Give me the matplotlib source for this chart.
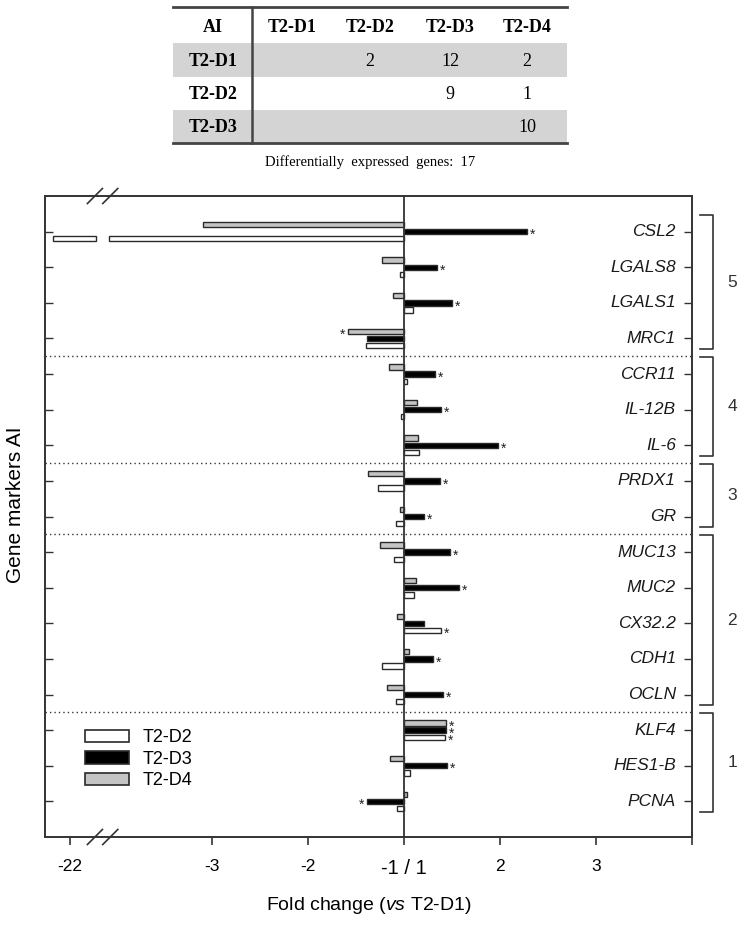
import numpy as np
import matplotlib
matplotlib.use("Agg")
import matplotlib.pyplot as plt
import matplotlib.transforms as mtransforms
from matplotlib.patches import Patch, Rectangle

plt.rcParams['font.family'] = ['Liberation Sans', 'DejaVu Sans']
plt.rcParams['mathtext.fontset'] = 'custom'
plt.rcParams['mathtext.rm'] = 'Liberation Sans'
plt.rcParams['mathtext.it'] = 'Liberation Sans:italic'

# ---- data ----
genes = ['CSL2', 'LGALS8', 'LGALS1', 'MRC1', 'CCR11', 'IL-12B', 'IL-6',
         'PRDX1', 'GR', 'MUC13', 'MUC2', 'CX32.2', 'CDH1', 'OCLN',
         'KLF4', 'HES1-B', 'PCNA']
groups = [5, 5, 5, 5, 4, 4, 4, 3, 3, 2, 2, 2, 2, 2, 1, 1, 1]

fc_d2 = [-23.0, -1.04, 1.09, -1.40, 1.03, -1.03, 1.16, -1.27, -1.08,
         -1.10, 1.10, 1.39, -1.23, -1.08, 1.43, 1.06, -1.07]
fc_d3 = [2.28, 1.34, 1.50, -1.39, 1.32, 1.39, 1.98, 1.38, 1.21,
         1.48, 1.57, 1.21, 1.30, 1.41, 1.44, 1.45, -1.39]
fc_d4 = [-3.09, -1.23, -1.11, -1.58, -1.16, 1.14, 1.15, -1.38, -1.04,
         -1.25, 1.12, -1.07, 1.05, -1.18, 1.44, -1.15, 1.03]

sig_d2 = ['CX32.2', 'KLF4']
sig_d3 = ['CSL2', 'LGALS8', 'LGALS1', 'CCR11', 'IL-12B', 'IL-6', 'PRDX1', 'GR',
          'MUC13', 'MUC2', 'CDH1', 'OCLN', 'KLF4', 'HES1-B', 'PCNA']
sig_d4 = ['MRC1', 'KLF4']

series_names = ['T2-D2', 'T2-D3', 'T2-D4']

tick_fc = [-22, -3, -2, 1, 2, 3, 4]
tick_labels = ['-22', '-3', '-2', '-1 / 1', '2', '3', '']

table_cols = ['AI', 'T2-D1', 'T2-D2', 'T2-D3', 'T2-D4']
table_rows = ['T2-D1', 'T2-D2', 'T2-D3']
table_vals = [['', '2', '12', '2'],
              ['', '', '9', '1'],
              ['', '', '', '10']]
n_deg = 17

# ---- axis transform: fold change -> linear position, with a break ----
U22 = -3.48
BREAK_LO, BREAK_HI = -3.21, -3.07


def to_u(fc):
    if fc >= 1:
        return fc - 1
    if fc > -10:
        return fc + 1
    return U22 - (abs(fc) - 22) * 0.18


W, H = 742, 926
fig = plt.figure(figsize=(W / 100, H / 100), dpi=100)
ax = fig.add_axes([45 / W, 1 - 837 / H, 647 / W, 641 / H])

xmin, xmax = -3.74, 3.0
ax.set_xlim(xmin, xmax)
ax.set_ylim(len(genes), -1)

ypos = np.arange(len(genes))
off = {'T2-D4': -0.2, 'T2-D3': 0.0, 'T2-D2': 0.2}
style = {'T2-D2': 'white', 'T2-D3': 'black', 'T2-D4': '#c4c4c4'}
vals = {'T2-D2': fc_d2, 'T2-D3': fc_d3, 'T2-D4': fc_d4}
sigs = {'T2-D2': sig_d2, 'T2-D3': sig_d3, 'T2-D4': sig_d4}
bh = 0.15

for name in series_names:
    for i, fc in enumerate(vals[name]):
        u = to_u(fc)
        y = ypos[i] + off[name]
        kw = dict(height=bh, color=style[name], edgecolor='#2a2a2a', linewidth=1.0, zorder=3)
        if u < BREAK_LO:
            ax.barh(y, BREAK_HI, left=0, **kw)
            ax.barh(y, u - BREAK_LO, left=BREAK_LO, **kw)
        else:
            ax.barh(y, u, left=0, **kw)
        if genes[i] in sigs[name]:
            dx = 2 if u > 0 else -2
            ax.annotate('*', (u, y), xytext=(dx, -2.5), textcoords='offset points',
                        ha='left' if u > 0 else 'right', va='center',
                        fontsize=10, color='#222222', zorder=4)

# zero line and group separators
ax.axvline(0, color='#333333', lw=1.3, zorder=4)
bounds = [i + 0.5 for i in range(len(groups) - 1) if groups[i] != groups[i + 1]]
for b in bounds:
    ax.axhline(b, color='#333333', lw=1.0, ls=(0, (1, 2.2)), zorder=2)

# gene labels inside the axes
tr = mtransforms.blended_transform_factory(ax.transAxes, ax.transData)
for i, g in enumerate(genes):
    ax.text(0.975, ypos[i], g, transform=tr, ha='right', va='center',
            fontsize=12.5, style='italic', color='#1a1a1a')

ax.set_yticks(ypos)
ax.set_yticklabels([])
ax.tick_params(axis='y', left=True, right=True, direction='in', length=6,
               width=1.0, color='#333333')
ax.set_xticks([U22 if f == -22 else to_u(f) for f in tick_fc])
ax.set_xticklabels(tick_labels)
ax.tick_params(axis='x', direction='out', length=6, width=1.2, pad=10,
               labelsize=12.5, color='#333333')
for lab in ax.get_xticklabels():
    if lab.get_text() == '-1 / 1':
        lab.set_fontsize(14.5)
for s in ax.spines.values():
    s.set_color('#333333')
    s.set_linewidth(1.4)

# break marks on top and bottom spines
for uc in (BREAK_LO - 0.01, BREAK_HI + 0.01):
    fx = (uc - xmin) / (xmax - xmin)
    for fy in (0, 1):
        ax.plot([fx - 7.5 / 647, fx + 7.5 / 647], [fy - 7.5 / 641, fy + 7.5 / 641],
                transform=ax.transAxes, color='#333333', lw=1.2, clip_on=False, zorder=5)

ax.set_xlabel(r'Fold change ($\it{vs}$ T2-D1)', fontsize=14, labelpad=12)
fig.text(16 / W, 1 - 505 / H, 'Gene markers AI', rotation=90, ha='center',
         va='center', fontsize=15)

# legend
handles = [Patch(facecolor=style[n], edgecolor='#2a2a2a', linewidth=1.2, label=n)
           for n in series_names]
ax.legend(handles=handles, loc='upper left', bbox_to_anchor=(0.062, 0.168),
          frameon=False, fontsize=13, handlelength=2.45, handleheight=0.7,
          handletextpad=0.75, labelspacing=0.25, borderpad=0, borderaxespad=0)

# group brackets outside the right spine
grp_ids = []
for g in groups:
    if g not in grp_ids:
        grp_ids.append(g)
for g in grp_ids:
    idx = [i for i, v in enumerate(groups) if v == g]
    top = idx[0] - 0.5 + 0.03
    bot = idx[-1] + 0.5 - 0.2
    ax.plot([1.012, 1.033, 1.033, 1.012], [top, top, bot, bot], transform=tr,
            color='#333333', lw=1.2, clip_on=False)
    ax.text(1.062, (top + bot) / 2, str(g), transform=tr, ha='center',
            va='center', fontsize=12.5, color='#333333')

# table at the top (pixel coordinates)
tax = fig.add_axes([0, 0, 1, 1], zorder=-1)
tax.set_xlim(0, W)
tax.set_ylim(H, 0)
tax.axis('off')
col_x = [213, 292, 370, 450, 527]
row_edges = [7, 43, 77, 110, 143]
for r in range(len(table_rows)):
    if r % 2 == 0:
        tax.add_patch(Rectangle((173, row_edges[r + 1]), 567 - 173,
                                row_edges[r + 2] - row_edges[r + 1],
                                facecolor='#d4d4d4', edgecolor='none'))
tax.plot([173, 567], [row_edges[0], row_edges[0]], color='#444444', lw=2)
tax.plot([173, 567], [row_edges[-1], row_edges[-1]], color='#444444', lw=2)
tax.plot([252, 252], [row_edges[0], row_edges[-1]], color='#444444', lw=1.8)
serif = ['Liberation Serif', 'DejaVu Serif']
for c, lab in enumerate(table_cols):
    tax.text(col_x[c], 27, lab, ha='center', va='center', fontsize=13,
             fontweight='bold', family=serif)
for r, lab in enumerate(table_rows):
    yc = (row_edges[r + 1] + row_edges[r + 2]) / 2 + 1
    tax.text(col_x[0], yc, lab, ha='center', va='center', fontsize=13,
             fontweight='bold', family=serif)
    for c, v in enumerate(table_vals[r]):
        tax.text(col_x[c + 1], yc, v, ha='center', va='center', fontsize=13,
                 family=serif)
tax.text(370, 162, 'Differentially  expressed  genes:  %d' % n_deg, ha='center',
         va='center', fontsize=10.5, family=serif)

fig.savefig('out.png', dpi=100)
